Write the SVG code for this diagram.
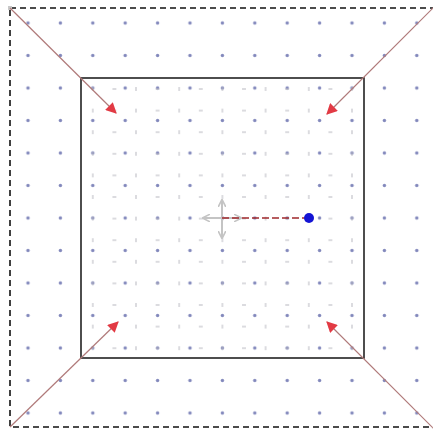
<svg xmlns="http://www.w3.org/2000/svg" width="433" height="430" viewBox="0 0 433 430">
<style>
.diag{stroke:#b07a7a;stroke-width:1.2;fill:none}
.gray{stroke:#c4c4c4;stroke-width:2;fill:none}
</style>
<defs>
<pattern id="coarse" patternUnits="userSpaceOnUse" x="11.8" y="6.75" width="32.4" height="32.5">
<circle cx="16.2" cy="16.25" r="1.7" fill="#8288bc"/>
</pattern>
<pattern id="fine" patternUnits="userSpaceOnUse" x="82" y="78.2" width="43.2" height="21.6">
<line x1="10.8" y1="8.8" x2="10.8" y2="12.8" stroke="#b8b8c0" stroke-width="1"/>
<line x1="30.4" y1="10.8" x2="34.4" y2="10.8" stroke="#b8b8c0" stroke-width="1"/>
</pattern>
<marker id="redhead" viewBox="0 0 10 10" refX="9" refY="5" markerWidth="14" markerHeight="11" markerUnits="userSpaceOnUse" orient="auto">
<path d="M0,0 L10,5 L0,10 Z" fill="#e23a44"/>
</marker>
<marker id="grayhead" viewBox="0 0 10 10" refX="8" refY="5" markerWidth="8" markerHeight="8" markerUnits="userSpaceOnUse" orient="auto-start-reverse">
<path d="M0,0 L10,5 L0,10" fill="none" stroke="#c4c4c4" stroke-width="2"/>
</marker>
</defs>
<rect x="0" y="0" width="433" height="430" fill="#ffffff"/>
<g id="grid">
<rect x="11.8" y="6.75" width="421.2" height="422.5" fill="url(#coarse)"/>
<rect x="82" y="78.2" width="281" height="281" fill="url(#fine)"/>
</g>
<g id="outer-frame">
<rect x="10" y="8" width="430" height="419" fill="none" stroke="#111" stroke-width="1.6" stroke-dasharray="6,4"/>
<rect x="8" y="6" width="4" height="4" fill="#c8c8c8"/>
</g>
<g id="inner-square">
<rect x="81" y="78" width="283" height="280" fill="none" stroke="#222" stroke-width="1.6"/>
</g>
<g id="connectors">
<line class="diag" x1="10" y1="8" x2="116" y2="113" marker-end="url(#redhead)"/>
<line class="diag" x1="434" y1="7" x2="327" y2="114" marker-end="url(#redhead)"/>
<line class="diag" x1="10" y1="427" x2="118" y2="322" marker-end="url(#redhead)"/>
<line class="diag" x1="434" y1="429" x2="327" y2="322" marker-end="url(#redhead)"/>
</g>
<g id="center-cross">
<line class="gray" x1="204" y1="218" x2="240" y2="218" marker-start="url(#grayhead)" marker-end="url(#grayhead)"/>
<line class="gray" x1="222" y1="201" x2="222" y2="237" marker-start="url(#grayhead)" marker-end="url(#grayhead)"/>
</g>
<g id="vector">
<line x1="222" y1="218" x2="309" y2="218" stroke="#a0282c" stroke-width="1.6" stroke-dasharray="7,3"/>
<circle cx="309" cy="218" r="5" fill="#1414d4"/>
</g>
</svg>
